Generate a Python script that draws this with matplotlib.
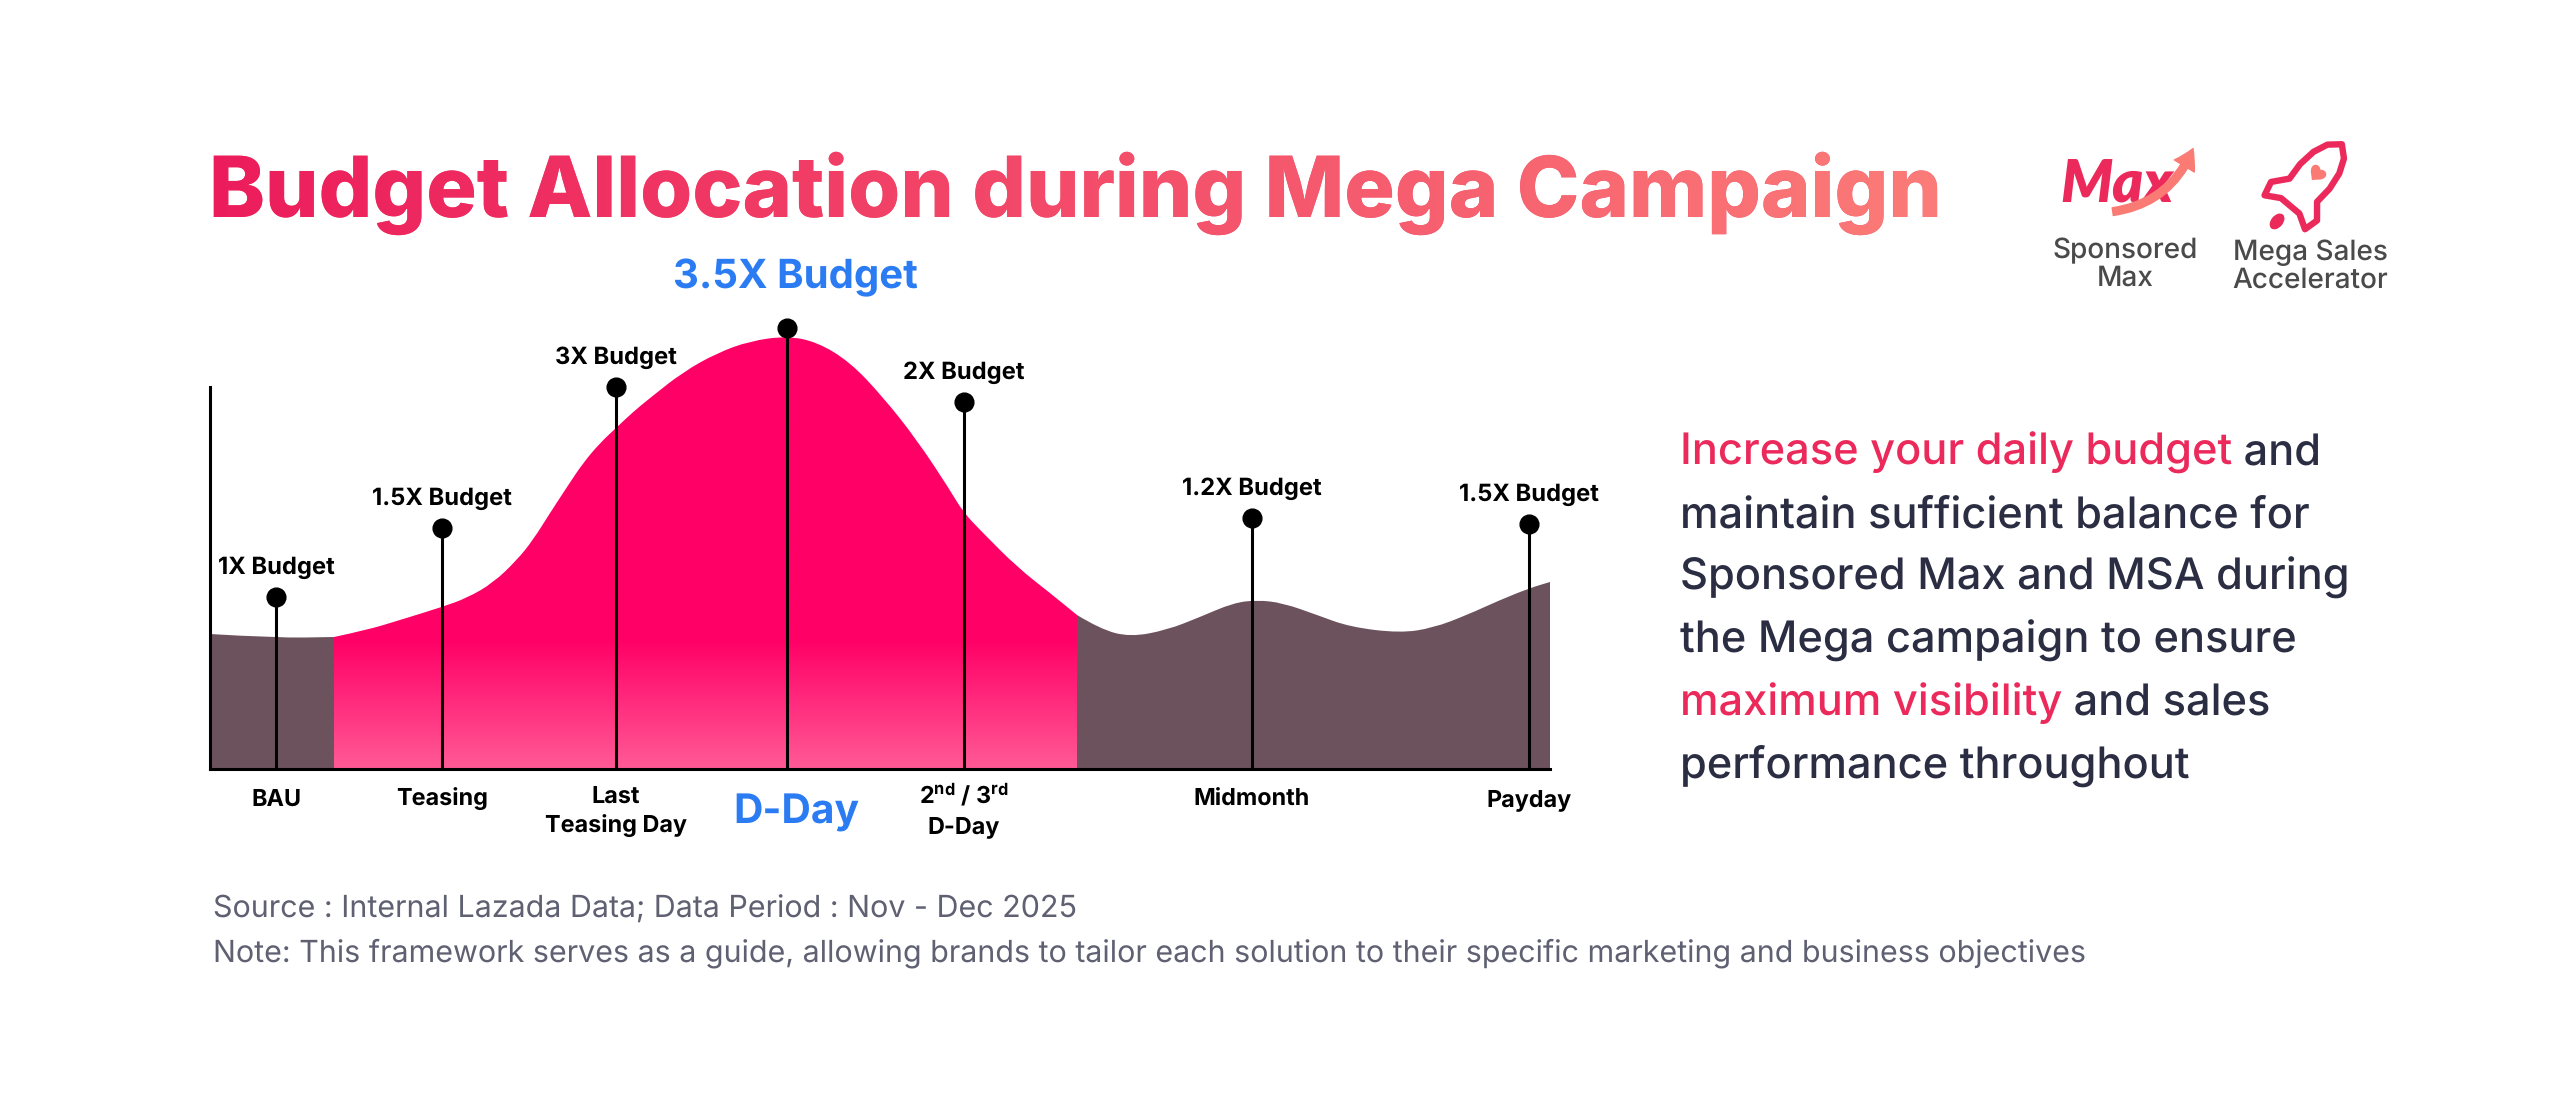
import numpy as np
import matplotlib
matplotlib.use("Agg")
import matplotlib.pyplot as plt
from matplotlib.path import Path
from matplotlib.patches import PathPatch, FancyArrowPatch, Ellipse
from matplotlib.textpath import TextPath
from matplotlib.font_manager import FontProperties
from matplotlib.transforms import Affine2D
from matplotlib.colors import to_rgb

plt.rcParams['font.family'] = ['Inter', 'DejaVu Sans']
plt.rcParams['mathtext.fontset'] = 'custom'
plt.rcParams['mathtext.it'] = 'Inter:bold'
plt.rcParams['mathtext.rm'] = 'Inter:bold'
plt.rcParams['mathtext.bf'] = 'Inter:bold'
plt.rcParams['text.hinting'] = 'no_hinting'

# ---- data (x: timeline units, y: budget level units)
title = "Budget Allocation during Mega Campaign"

stages = ["BAU", "Teasing", "Last\nTeasing Day", "D-Day",
          "2$^{nd}$ / 3$^{rd}$\nD-Day", "Midmonth", "Payday"]
stage_x = [0.66, 2.32, 4.06, 5.77, 7.54, 10.42, 13.19]
stem_top = [1.72, 2.41, 3.82, 4.41, 3.67, 2.51, 2.45]
budget_labels = ["1X Budget", "1.5X Budget", "3X Budget", "3.5X Budget",
                 "2X Budget", "1.2X Budget", "1.5X Budget"]
peak = 3

# business-as-usual area (left, dark)
bau_x = [0.0, 0.66, 1.24]
bau_y = [1.35, 1.31, 1.32]
# campaign boost area (pink)
boost_x = [1.24, 1.57, 1.90, 2.32, 2.57, 2.83, 3.07, 3.23, 3.40, 3.57, 3.73,
           3.90, 4.06, 4.23, 4.40, 4.73, 5.07, 5.40, 5.77, 6.07, 6.40, 6.73,
           7.07, 7.40, 7.53, 7.73, 8.07, 8.40, 8.67]
boost_y = [1.32, 1.39, 1.49, 1.62, 1.71, 1.86, 2.09, 2.29, 2.56, 2.82, 3.06,
           3.26, 3.41, 3.57, 3.71, 3.97, 4.16, 4.28, 4.33, 4.27, 4.07, 3.72,
           3.29, 2.79, 2.57, 2.36, 2.02, 1.76, 1.54]
# after campaign area (right, dark)
after_x = [8.67, 8.90, 9.20, 9.57, 9.90, 10.23, 10.47, 10.73, 11.07, 11.40,
           11.90, 12.23, 12.57, 12.90, 13.20, 13.40]
after_y = [1.54, 1.40, 1.32, 1.39, 1.52, 1.66, 1.69, 1.66, 1.54, 1.42,
           1.36, 1.41, 1.54, 1.69, 1.81, 1.87]
axis_top = 3.82

PINK_TXT = '#EB2A5B'
INK = '#2B2D42'
paragraph = [
    [("Increase your daily budget", PINK_TXT), (" and", INK)],
    [("maintain sufficient balance for", INK)],
    [("Sponsored Max and MSA during", INK)],
    [("the Mega campaign to ensure", INK)],
    [("maximum visibility", PINK_TXT), (" and sales", INK)],
    [("performance throughout", INK)],
]
source_note = "Source : Internal Lazada Data; Data Period : Nov - Dec 2025"
framework_note = ("Note: This framework serves as a guide, allowing brands to tailor "
                  "each solution to their specific marketing and business objectives")
products = ["Sponsored\nMax", "Mega Sales\nAccelerator"]

# colours
PINK = '#FF0066'
PINK_LIGHT = '#FF5A96'
DARK = '#6C525C'
BLUE = '#2B7CF3'
GREY = '#5F6172'
LOGO_GREY = '#4A4A4A'
SALMON = '#F97B74'
TITLE_L, TITLE_R = '#EC1C5C', '#FB7C78'

W, H = 2560, 1107
fig = plt.figure(figsize=(W / 100, H / 100), dpi=100)
fig.patch.set_facecolor('white')
renderer = fig.canvas.get_renderer()


def fitted_size(text, width, **kw):
    t = fig.text(0, 0, text, fontsize=20, **kw)
    w = t.get_window_extent(renderer).width
    t.remove()
    return 20 * width / w


def smooth_area(xs, ys):
    verts = [(xs[0], 0), (xs[0], ys[0])]
    codes = [Path.MOVETO, Path.LINETO]
    for i in range(1, len(xs) - 1):
        verts += [(xs[i], ys[i]), ((xs[i] + xs[i + 1]) / 2, (ys[i] + ys[i + 1]) / 2)]
        codes += [Path.CURVE3, Path.CURVE3]
    verts += [(xs[-1], ys[-1]), (xs[-1], 0), (xs[0], 0)]
    codes += [Path.LINETO, Path.LINETO, Path.CLOSEPOLY]
    return Path(verts, codes)


fs_title = fitted_size(title, 1733, fontweight='heavy')
fs_stem = fitted_size("1.5X Budget", 140, fontweight='bold')
fs_peak = fitted_size("3.5X Budget", 245, fontweight='bold')
fs_stage = fitted_size("Teasing", 92, fontweight='bold')
fs_dday = fitted_size("D-Day", 126, fontweight='bold')
fs_para = fitted_size("maintain sufficient balance for", 630, fontweight='medium')
fs_foot = fitted_size(source_note, 864)
fs_logo = fitted_size("Mega Sales", 155, fontweight='medium')
fs_max = fitted_size("Max", 113, family=['Lato', 'DejaVu Sans'],
                     fontweight='heavy', fontstyle='italic')

# ---- chart axes (100 px per unit)
X0, X1, Y0, YT = 210, 1550, 769, 300
ax = fig.add_axes([X0 / W, 1 - Y0 / H, (X1 - X0) / W, (Y0 - YT) / H])
ax.patch.set_visible(False)

ax.add_patch(PathPatch(smooth_area(bau_x, bau_y), facecolor=DARK, edgecolor='none', zorder=1))
ax.add_patch(PathPatch(smooth_area(after_x, after_y), facecolor=DARK, edgecolor='none', zorder=1))
pink_patch = PathPatch(smooth_area(boost_x, boost_y), facecolor='none', edgecolor='none')
ax.add_patch(pink_patch)
yy = np.linspace(0, 4.6, 461)
frac = np.clip(yy / 1.29, 0, 1)[:, None]
lo, hi = np.array(to_rgb(PINK_LIGHT)), np.array(to_rgb(PINK))
img = ax.imshow((lo + (hi - lo) * frac)[:, None, :], extent=[boost_x[0], boost_x[-1], 0, 4.6],
                origin='lower', aspect='auto', interpolation='bilinear', zorder=1)
img.set_clip_path(pink_patch)

ax.vlines(stage_x, 0, stem_top, colors='black', lw=2.2, zorder=3)
ax.plot(stage_x, stem_top, 'o', ms=13.5, color='black', zorder=4, clip_on=False)

ax.set_xlim(0, (X1 - X0) / 100)
ax.set_ylim(0, (Y0 - YT) / 100)
ax.set_xticks([])
ax.set_yticks([])
for side in ['top', 'right']:
    ax.spines[side].set_visible(False)
for side in ['left', 'bottom']:
    ax.spines[side].set_linewidth(2.2)
    ax.spines[side].set_color('black')
ax.spines['left'].set_bounds(0, axis_top)

for i, (x, top, lab) in enumerate(zip(stage_x, stem_top, budget_labels)):
    if i == peak:
        ax.annotate(lab, (x, top), xytext=(8, 40), textcoords='offset pixels',
                    ha='center', va='baseline', color=BLUE, fontsize=fs_peak,
                    fontweight='bold', annotation_clip=False)
    else:
        ax.annotate(lab, (x, top), xytext=(0, 23), textcoords='offset pixels',
                    ha='center', va='baseline', color='black', fontsize=fs_stem,
                    fontweight='bold', annotation_clip=False)

for i, (x, lab) in enumerate(zip(stage_x, stages)):
    if i == peak:
        ax.annotate(lab, (x, 0), xytext=(9, -55), textcoords='offset pixels',
                    ha='center', va='baseline', color=BLUE, fontsize=fs_dday,
                    fontweight='bold', annotation_clip=False)
        continue
    lines = lab.split("\n")
    for j, line in enumerate(lines):
        dy = -37 if len(lines) == 1 else -34 - 30 * j
        ax.annotate(line, (x, 0), xytext=(0, dy), textcoords='offset pixels',
                    ha='center', va='baseline', color='black', fontsize=fs_stage,
                    fontweight='bold', annotation_clip=False)

# ---- overlay in pixel coordinates for the page texts and logos
ov = fig.add_axes([0, 0, 1, 1])
ov.set_xlim(0, W)
ov.set_ylim(H, 0)
ov.axis('off')

fp_title = FontProperties(family=['Inter'], weight='heavy', size=fs_title)
tl, tr = np.array(to_rgb(TITLE_L)), np.array(to_rgb(TITLE_R))
ov.text(209, 217, title, fontproperties=fp_title, color=(tl + tr) / 2,
        va='baseline', ha='left', zorder=2)
tpath = TextPath((0, 0), title, size=fs_title * 100 / 72, prop=fp_title)
g = np.linspace(0, 1, 256)[:, None]
tim = ov.imshow((tl + (tr - tl) * g)[None, :, :], extent=[205, 1945, 240, 140],
                aspect='auto', interpolation='bilinear', zorder=3)
tim.set_clip_path(tpath, transform=Affine2D().scale(1, -1).translate(209, 217) + ov.transData)

for k, segs in enumerate(paragraph):
    x = 1680
    y = 465 + 62.5 * k
    for s, c in segs:
        t = ov.text(x, y, s, color=c, fontsize=fs_para, fontweight='medium',
                    va='baseline', ha='left')
        x = t.get_window_extent(renderer).x1

ov.text(213, 918, source_note, color=GREY, fontsize=fs_foot, va='baseline', ha='left')
ov.text(213, 961, framework_note, color=GREY, fontsize=fs_foot, va='baseline', ha='left')

# product names under the logos
for cx, base, name in zip([2125, 2310], [258, 260], products):
    for j, line in enumerate(name.split("\n")):
        ov.text(cx, base + 28 * j, line, color=LOGO_GREY, fontsize=fs_logo,
                fontweight='medium', ha='center', va='baseline')

# Max logo
ov.text(2060, 203, "Max", family=['Lato', 'DejaVu Sans'], fontweight='heavy',
        fontstyle='italic', color=PINK_TXT, fontsize=fs_max, va='baseline', ha='left')
ov.add_patch(FancyArrowPatch((2110, 212), (2194, 146), connectionstyle='arc3,rad=0.3',
                             arrowstyle='simple,head_length=1.0,head_width=1.2,tail_width=0.4',
                             mutation_scale=14, color=SALMON, zorder=6))

# rocket logo
rocket = [(0, 40), (9, 32), (14, 20), (16, 5), (15, -10), (25, -22), (22, -34), (10, -27),
          (-10, -27), (-22, -34), (-25, -22), (-15, -10), (-16, 5), (-14, 20), (-9, 32), (0, 40)]
rt = Affine2D().rotate_deg(-40).scale(1.2, -1.2).translate(2311, 181) + ov.transData
ov.add_patch(PathPatch(Path(rocket, closed=True), facecolor='white', edgecolor=PINK_TXT,
                       lw=4.6, joinstyle='round', transform=rt, zorder=6))
heart_v = [(0, -1.0), (-0.2, -0.7), (-1.0, -0.3), (-1.0, 0.3), (-1.0, 0.8), (-0.4, 1.0), (0, 0.6),
           (0.4, 1.0), (1.0, 0.8), (1.0, 0.3), (1.0, -0.3), (0.2, -0.7), (0, -1.0)]
heart_c = [Path.MOVETO] + [Path.CURVE4] * 12
heart = Path([(7 * a, 7 * b + 8) for a, b in heart_v], heart_c)
ov.add_patch(PathPatch(heart, facecolor=SALMON, edgecolor='none', transform=rt, zorder=7))
ov.add_patch(Ellipse((0, -44), 10, 15, facecolor=PINK_TXT, edgecolor='none', transform=rt, zorder=6))

ov.set_xlim(0, W)
ov.set_ylim(H, 0)

fig.savefig("out.png", dpi=100, facecolor='white')
